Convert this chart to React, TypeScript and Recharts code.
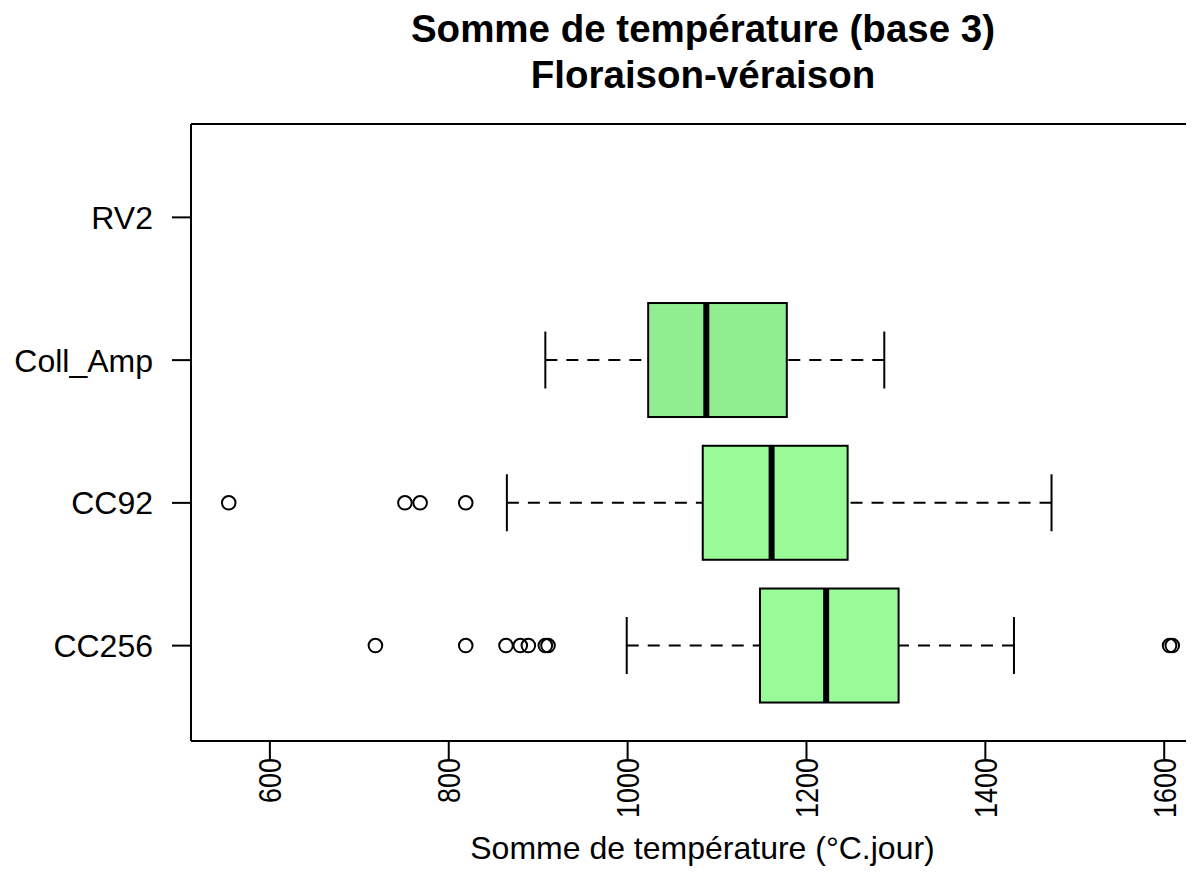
import { Bar, ComposedChart, XAxis, YAxis } from 'recharts'

// five-number summaries per clone, bottom to top
const groups = ['CC256', 'CC92', 'Coll_Amp', 'RV2']
const whiskerLow = [999, 865, 908, null]
const q1 = [1148, 1084, 1023, null]
const median = [1222, 1161, 1088, null]
const q3 = [1303, 1246, 1178, null]
const whiskerHigh = [1432, 1474, 1287, null]
const outliers = [
  [718, 819, 864, 880, 889, 908, 911, 1606, 1609],
  [554, 751, 768, 819],
  [],
  [],
]
const xTicks = [600, 800, 1000, 1200, 1400, 1600]

const boxFill: Record<string, string> = {
  CC256: '#98FB98',
  CC92: '#98FB98',
  Coll_Amp: '#90EE90',
  RV2: '#98FB98',
}

const font = '"Liberation Sans", Arial, Helvetica, sans-serif'

const rows = groups.map((name, i) => ({
  name,
  lo: whiskerLow[i],
  q1: q1[i],
  med: median[i],
  q3: q3[i],
  hi: whiskerHigh[i],
  out: outliers[i],
}))

function BoxShape(props: any) {
  const { x, y, width, height, payload } = props
  if (payload.q1 == null || !isFinite(x) || !isFinite(width)) return <g />
  const { lo, hi } = payload
  // linear map from value to pixel using the bar's own scaled ends
  const px = (v: number) => x + ((v - lo) / (hi - lo)) * width
  const cy = y + height / 2
  const cap = height / 4
  return (
    <g>
      <line x1={px(lo)} x2={px(payload.q1)} y1={cy} y2={cy} stroke='#000' strokeWidth={2} strokeDasharray='12 9' />
      <line x1={px(hi)} x2={px(payload.q3)} y1={cy} y2={cy} stroke='#000' strokeWidth={2} strokeDasharray='12 9' />
      <line x1={px(lo)} x2={px(lo)} y1={cy - cap} y2={cy + cap} stroke='#000' strokeWidth={2} />
      <line x1={px(hi)} x2={px(hi)} y1={cy - cap} y2={cy + cap} stroke='#000' strokeWidth={2} />
      <rect
        x={px(payload.q1)}
        y={y}
        width={px(payload.q3) - px(payload.q1)}
        height={height}
        fill={boxFill[payload.name]}
        stroke='#000'
        strokeWidth={2}
      />
      <line x1={px(payload.med)} x2={px(payload.med)} y1={y} y2={y + height} stroke='#000' strokeWidth={6} />
      {payload.out.map((v: number, k: number) => (
        <circle key={k} cx={px(v)} cy={cy} r={6.8} fill='none' stroke='#000' strokeWidth={2} />
      ))}
    </g>
  )
}

function XTick(props: any) {
  const { x, y, payload } = props
  const label = String(payload.value)
  return (
    <text
      x={x}
      y={y}
      dy={11.5}
      transform={`rotate(-90, ${x}, ${y})`}
      textAnchor='end'
      fontSize={32}
      fontFamily={font}
      textLength={label.length * 15}
      lengthAdjust='spacingAndGlyphs'
      fill='#000'
    >
      {label}
    </text>
  )
}

function YTick(props: any) {
  const { x, y, payload } = props
  return (
    <text x={x} y={y} dy={11.5} textAnchor='end' fontSize={32} fontFamily={font} fill='#000'>
      {payload.value}
    </text>
  )
}

export default function App() {
  return (
    <div
      style={{
        position: 'relative',
        width: 1194,
        height: 894,
        margin: -8,
        overflow: 'hidden',
        background: '#fff',
      }}
    >
      <div
        style={{
          position: 'absolute',
          top: 6,
          left: 0,
          width: 1406,
          textAlign: 'center',
          fontFamily: font,
          fontWeight: 'bold',
          fontSize: 38.5,
          lineHeight: '46px',
          color: '#000',
        }}
      >
        <div>Somme de température (base 3)</div>
        <div>Floraison-véraison</div>
      </div>
      <ComposedChart
        width={1230}
        height={894}
        layout='vertical'
        data={rows}
        barCategoryGap='10%'
        margin={{ top: 123, right: 19, bottom: 0, left: 0 }}
      >
        <XAxis
          xAxisId='bottom'
          type='number'
          domain={[511.8, 1651.2]}
          allowDataOverflow
          ticks={xTicks}
          height={153}
          tickSize={19}
          tickMargin={-2}
          tick={<XTick />}
          tickLine={{ stroke: '#000', strokeWidth: 2 }}
          axisLine={{ stroke: '#000', strokeWidth: 2 }}
          label={{
            content: (p: any) => (
              <text
                x={p.viewBox.x + p.viewBox.width / 2 + 2}
                y={p.viewBox.y + 118}
                textAnchor='middle'
                fontSize={32}
                fontFamily={font}
                fill='#000'
              >
                Somme de température (°C.jour)
              </text>
            ),
          }}
        />
        <XAxis
          xAxisId='top'
          orientation='top'
          type='number'
          domain={[511.8, 1651.2]}
          allowDataOverflow
          height={1}
          tick={false}
          tickLine={false}
          axisLine={{ stroke: '#000', strokeWidth: 2 }}
        />
        <YAxis
          yAxisId='left'
          type='category'
          dataKey='name'
          reversed
          width={191}
          padding={{ top: 22, bottom: 24 }}
          tickSize={19}
          tickMargin={19}
          tick={<YTick />}
          tickLine={{ stroke: '#000', strokeWidth: 2 }}
          axisLine={{ stroke: '#000', strokeWidth: 2 }}
        />
        <YAxis
          yAxisId='right'
          orientation='right'
          type='category'
          dataKey='name'
          width={1}
          tick={false}
          tickLine={false}
          axisLine={{ stroke: '#000', strokeWidth: 2 }}
        />
        <Bar
          xAxisId='bottom'
          yAxisId='left'
          dataKey={(d: any) => (d.lo == null ? null : [d.lo, d.hi])}
          shape={<BoxShape />}
          isAnimationActive={false}
        />
      </ComposedChart>
    </div>
  )
}
